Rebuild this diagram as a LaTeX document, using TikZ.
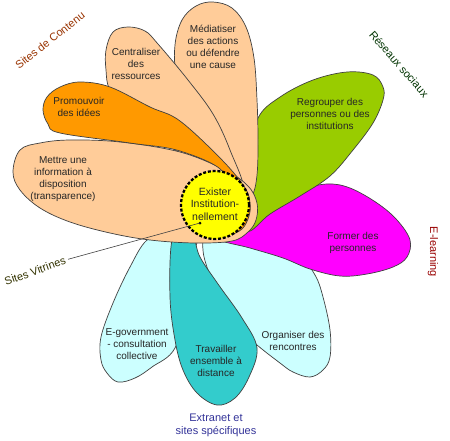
\documentclass[tikz,border=0pt]{standalone}
\usepackage{fontspec}
\setmainfont{Liberation Sans}
\definecolor{peach}{HTML}{FFCC99}
\definecolor{orangeP}{HTML}{FF9900}
\definecolor{greenP}{HTML}{99CC00}
\definecolor{magentaP}{HTML}{FF00FF}
\definecolor{cyanP}{HTML}{CCFFFF}
\definecolor{tealP}{HTML}{33CCCC}
\definecolor{yellowP}{HTML}{FFFF00}
\definecolor{brownred}{HTML}{993300}
\definecolor{darkgreenL}{HTML}{003300}
\definecolor{darkredL}{HTML}{990000}
\definecolor{oliveL}{HTML}{333300}
\definecolor{navyL}{HTML}{333399}
\begin{document}
\begin{tikzpicture}[x=1pt,y=-1pt,
  petal/.style={draw=black!75, line width=0.7pt},
  ptext/.style={align=center, font=\fontsize{10}{12}\selectfont, text=black!85, inner sep=0pt},
  grp/.style={font=\fontsize{11}{13}\selectfont, inner sep=1pt},
  hub/.style={circle, fill=yellowP, draw=black, line width=2.3pt, dash pattern=on 3pt off 1.8pt, minimum size=68pt, inner sep=0pt},
  dotnode/.style={circle, fill=black, inner sep=0pt, minimum size=3pt},
  leader/.style={draw=black!75, line width=0.6pt}]
\fill[white] (0,0) rectangle (450,440);
\useasboundingbox (0,0) rectangle (450,440);

% E-government (back)
\draw[petal, fill=cyanP] plot[smooth cycle, tension=0.6] coordinates {
 (200,225) (170,232) (147,240) (130,267) (113,303) (101,337) (101,360) (107,373)
 (118,382) (135,378) (152,367) (175,348) (188,300) (192,260)};
% Organiser
\draw[petal, fill=cyanP] plot[smooth cycle, tension=0.6] coordinates {
 (210,238) (260,247) (300,259) (315,275) (323,297) (330,330) (330,357) (323,370)
 (310,377) (293,372) (280,363) (257,345) (235,325) (212,280) (203,250)};
% Travailler
\draw[petal, fill=tealP] plot[smooth cycle, tension=0.6] coordinates {
 (185,225) (172,240) (170,297) (175,340) (183,370) (197,393) (217,405) (235,398)
 (249,377) (257,348) (242,318) (218,284) (200,257) (194,238)};
% Former
\draw[petal, fill=magentaP] plot[smooth cycle, tension=0.6] coordinates {
 (215,238) (230,225) (260,205) (300,190) (327,184) (350,188) (377,203) (397,220)
 (410,240) (407,257) (393,267) (367,274) (340,276) (310,269) (283,258) (250,248)};
% Regrouper
\draw[petal, fill=greenP] plot[smooth cycle, tension=0.6] coordinates {
 (248,231) (246,200) (248,160) (258,118) (280,97) (313,80) (347,72) (373,75)
 (383,87) (383,100) (373,123) (353,150) (330,176) (300,196) (270,214)};
% Mediatiser
\draw[petal, fill=peach] plot[smooth cycle, tension=0.6] coordinates {
 (213,2) (232,8) (246,27) (254,58) (257,100) (258,140) (257,175) (252,195)
 (240,195) (222,160) (195,115) (177,75) (175,45) (182,20) (196,6)};
% Centraliser
\draw[petal, fill=peach] plot[smooth cycle, tension=0.6] coordinates {
 (158,44) (145,31) (128,27) (113,32) (106,50) (106,70) (110,90) (130,115) (160,140)
 (200,165) (242,189) (230,150) (213,114) (188,80)};
% Mettre
\draw[petal, fill=peach] plot[smooth cycle, tension=0.6] coordinates {
 (13,172) (20,150) (40,143) (70,140) (120,142) (180,152) (225,170) (248,186)
 (257,203) (256,220) (248,232) (232,241) (195,243) (150,240) (110,233) (70,222)
 (40,208) (20,190)};
% Promouvoir
\draw[petal, fill=orangeP] plot[smooth cycle, tension=0.6] coordinates {
 (43,110) (47,97) (60,87) (80,82) (110,87) (150,107) (180,121) (223,161)
 (245,188) (250,203) (249,216) (242,229) (228,235) (212,232) (215,200) (223,172)
 (180,151) (130,143) (60,133) (48,124)};

% hub
\node[hub] (hubc) at (215,205) {};
\node[ptext, font=\fontsize{10.5}{12.5}\selectfont] (exister) at (215,204) {Exister\\Institution-\\nellement};

% petal texts
\node[ptext] (mediatiser) at (213,47) {Médiatiser\\des actions\\ou défendre\\une cause};
\node[ptext] (centraliser) at (136,64) {Centraliser\\des\\ressources};
\node[ptext] (promouvoir) at (79,107) {Promouvoir\\des idées};
\node[ptext] (mettre) at (63,179) {Mettre une\\information à\\disposition\\(transparence)};
\node[ptext] (regrouper) at (330,114) {Regrouper des\\personnes ou des\\institutions};
\node[ptext] (former) at (353,243) {Former des\\personnes};
\node[ptext] (organiser) at (293,341) {Organiser des\\rencontres};
\node[ptext] (travailler) at (216,361) {Travailler\\ensemble à\\distance};
\node[ptext] (egov) at (137,344) {E-government\\- consultation\\collective};

% group labels
\node[grp, text=brownred, rotate=38] (contenu) at (50,40) {Sites de Contenu};
\node[grp, text=darkgreenL, rotate=-49] (reseaux) at (399,64) {Réseaux sociaux};
\node[grp, text=darkredL, rotate=-90] (elearning) at (433,252) {E-learning};
\node[grp, text=oliveL, rotate=19.5, inner sep=3pt] (vitrines) at (35,271) {Sites Vitrines};
\node[grp, text=navyL, align=center] (extranet) at (216,425) {Extranet et\\sites spécifiques};

\node[dotnode] (dot) at (200,223) {};
\draw[leader] (vitrines.east) -- (dot.center);
\end{tikzpicture}
\end{document}
